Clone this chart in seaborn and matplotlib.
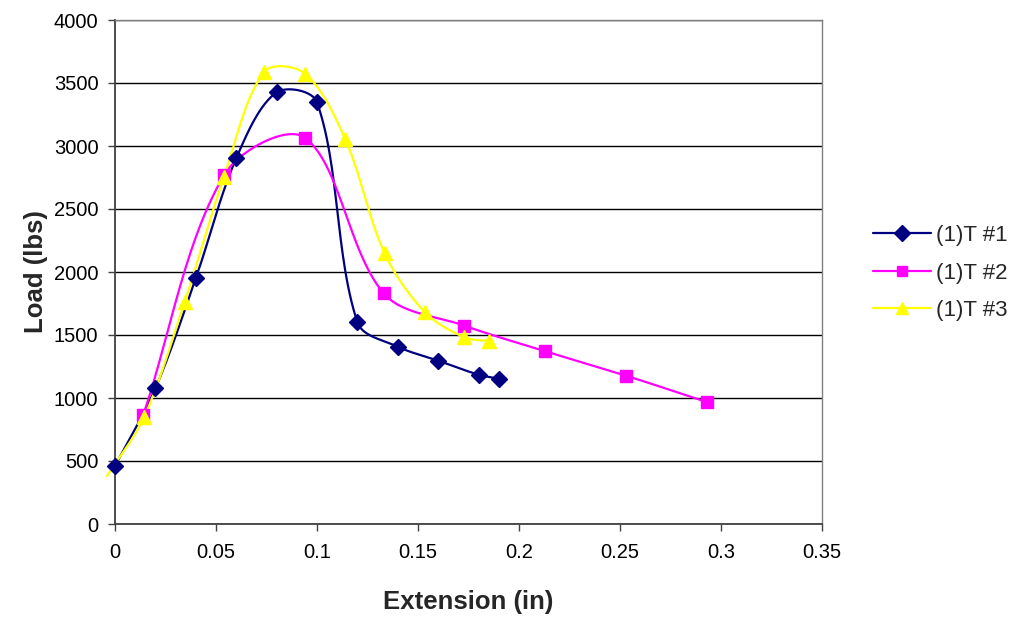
import numpy as np
import matplotlib
matplotlib.use("Agg")
import matplotlib.pyplot as plt
from matplotlib.lines import Line2D
import seaborn as sns
import pandas as pd

# ---- data ----
names = ["(1)T #1", "(1)T #2", "(1)T #3"]
ext1 = [0.0, 0.02, 0.04, 0.06, 0.08, 0.10, 0.12, 0.14, 0.16, 0.18, 0.19]
load1 = [460, 1077, 1950, 2902, 3426, 3347, 1601, 1407, 1296, 1185, 1153]
ext2 = [0.014, 0.054, 0.094, 0.133, 0.173, 0.213, 0.253, 0.293]
load2 = [865, 2770, 3066, 1831, 1574, 1371, 1177, 968]
ext3 = [-0.004, 0.0145, 0.0345, 0.054, 0.074, 0.094, 0.114, 0.1335, 0.1535, 0.173, 0.185]
load3 = [380, 852, 1762, 2757, 3590, 3575, 3053, 2148, 1680, 1481, 1452]
colors = ["#000080", "#FF00FF", "#FFFF00"]
markers = ["D", "s", "^"]
msizes = [8.5, 8, 10]
x_ticks = [0, 0.05, 0.1, 0.15, 0.2, 0.25, 0.3, 0.35]
x_labels = ["0", "0.05", "0.1", "0.15", "0.2", "0.25", "0.3", "0.35"]
y_ticks = [0, 500, 1000, 1500, 2000, 2500, 3000, 3500, 4000]

sns.set_theme(style="white")
plt.rcParams["font.family"] = ["Liberation Sans", "DejaVu Sans"]

fig = plt.figure(figsize=(10.13, 6.19), dpi=100)
W, H = 1013, 619
left, right, top, bottom = 115, 822, 20, 524
ax = fig.add_axes([left / W, 1 - bottom / H, (right - left) / W, (bottom - top) / H])

XS = 0.35 / (right - left)
YS = 4000 / (bottom - top)


def smooth(x, y, n=30):
    """Excel-like smoothed line (chord-weighted cardinal Bezier in pixel space)."""
    P = np.column_stack([np.asarray(x, float) / XS, np.asarray(y, float) / YS])
    Pe = np.vstack([P[0], P, P[-1]])
    d = np.linalg.norm(np.diff(Pe, axis=0), axis=1)
    out = []
    t = np.linspace(0, 1, n)[:, None]
    for i in range(len(P) - 1):
        p0, p3 = Pe[i + 1], Pe[i + 2]
        T1 = Pe[i + 2] - Pe[i]
        T2 = Pe[i + 3] - Pe[i + 1]
        dprev, dcur, dnext = d[i], d[i + 1], d[i + 2]
        f1 = dcur / (dprev + dcur) / 3 if dprev + dcur > 0 else 0
        f2 = dcur / (dcur + dnext) / 3 if dcur + dnext > 0 else 0
        c1 = p0 + T1 * f1
        c2 = p3 - T2 * f2
        seg = ((1 - t) ** 3) * p0 + 3 * ((1 - t) ** 2) * t * c1 + 3 * (1 - t) * t ** 2 * c2 + t ** 3 * p3
        out.append(seg if i == 0 else seg[1:])
    S = np.vstack(out)
    return S[:, 0] * XS, S[:, 1] * YS


series = [(ext1, load1), (ext2, load2), (ext3, load3)]
for i, (xv, yv) in enumerate(series):
    sx, sy = smooth(xv, yv)
    df = pd.DataFrame({"x": sx, "y": sy})
    sns.lineplot(data=df, x="x", y="y", ax=ax, color=colors[i], lw=1.6, sort=False,
                 estimator=None, zorder=3 + i)
    mx = np.asarray(xv)
    my = np.asarray(yv)
    keep = mx >= 0
    ax.plot(mx[keep], my[keep], linestyle="none", marker=markers[i], ms=msizes[i],
            color=colors[i], markeredgecolor=colors[i], zorder=6 + i, clip_on=False)

for ln in ax.lines:
    ln.set_clip_on(False)

ax.set_xlim(0, 0.35)
ax.set_ylim(0, 4000)
ax.set_xticks(x_ticks)
ax.set_xticklabels(x_labels)
ax.set_yticks(y_ticks)
ax.set_yticklabels([str(v) for v in y_ticks])
ax.yaxis.grid(True, color="#000000", lw=1.0)
ax.xaxis.grid(False)
ax.set_axisbelow(True)
for s in ["top", "right"]:
    ax.spines[s].set_color("#808080")
    ax.spines[s].set_linewidth(1.0)
for s in ["left", "bottom"]:
    ax.spines[s].set_color("#404040")
    ax.spines[s].set_linewidth(1.3)
ax.tick_params(axis="both", which="major", direction="out", length=5, width=1,
               color="#404040", labelsize=14.5, labelcolor="black", bottom=True, left=True)
ax.tick_params(axis="x", pad=9)
ax.tick_params(axis="y", pad=7)
ax.set_xlabel("Extension (in)", fontsize=18.5, fontweight="bold", labelpad=20)
ax.set_ylabel("Load (lbs)", fontsize=18.5, fontweight="bold", labelpad=4)

handles = [Line2D([0], [0], color=colors[i], lw=1.6, marker=markers[i], ms=msizes[i] * 0.9,
                  markeredgecolor=colors[i]) for i in range(3)]
fig.legend(handles, names, loc="center left", bbox_to_anchor=(873 / W, 1 - 273 / H),
           frameon=False, fontsize=16, handlelength=2.6, labelspacing=0.75,
           handletextpad=0.25, borderaxespad=0, borderpad=0)

fig.savefig("out.png", dpi=100)
